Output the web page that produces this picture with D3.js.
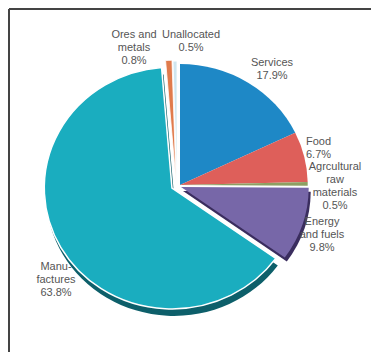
<!DOCTYPE html>
<html>
<head>
<meta charset="utf-8">
<script src="https://cdn.jsdelivr.net/npm/d3@7"></script>
<style>
  html, body { margin: 0; padding: 0; background: #fff; }
  svg { display: block; }
  text { font-family: "Liberation Sans", Arial, sans-serif; font-size: 11px; fill: #555; }
</style>
</head>
<body>
<svg id="chart" width="371" height="352"></svg>
<script>
// Data (clockwise from 12 o'clock)
const categories = ["Services", "Food", "Agricultural raw materials", "Energy and fuels", "Manufactures", "Ores and metals", "Unallocated"];
const values = [17.9, 6.7, 0.5, 9.8, 63.8, 0.8, 0.5];
const labelLines = [
  ["Services", "17.9%"],
  ["Food", "6.7%"],
  ["Agrcultural", "raw", "materials", "0.5%"],
  ["Energy", "and fuels", "9.8%"],
  ["Manu-", "factures", "63.8%"],
  ["Ores and", "metals", "0.8%"],
  ["Unallocated", "0.5%"]
];

// Styling / layout
const colors = ["#1e88c6", "#de5f5a", "#8d9f62", "#7767a8", "#1aadbf", "#e07b4c", "#cfe6ef"];
const rimColors = [null, null, null, "#3a2d5e", "#0d5f6a", null, null];
const rimOffset = [null, null, null, [2, 4], [2, 7], null, null];
const sliceOffset = [[0, 0], [0, 0], [0, 0], [1, 2], [-8, 3], [-4, -4], [-3, -3]];
const labelPos = [[272, 66], [306, 145], [335, 170], [322, 225], [56, 270], [134, 38], [191, 38]];
const labelAnchor = ["middle", "start", "middle", "middle", "middle", "middle", "middle"];

const svg = d3.select("#chart");
const W = 371, H = 352;
const cx = 180, cy = 185, r = 124, sx = 1.03, sy = 0.975;

// Frame: top and left lines
svg.append("line").attr("x1", 9).attr("y1", 9).attr("x2", W).attr("y2", 9)
  .attr("stroke", "#444").attr("stroke-width", 2);
svg.append("line").attr("x1", 9).attr("y1", 9).attr("x2", 9).attr("y2", H)
  .attr("stroke", "#444").attr("stroke-width", 2);

const pie = d3.pie().sort(null).value(d => d).startAngle(0).endAngle(2 * Math.PI);
const arcs = pie(values);
const arc = d3.arc().innerRadius(0).outerRadius(r);

const g = svg.append("g").attr("transform", `translate(${cx},${cy})`);

// Rims (3D depth) drawn first
arcs.forEach((a, i) => {
  if (!rimColors[i]) return;
  const [dx, dy] = sliceOffset[i];
  const [rx, ry] = rimOffset[i];
  g.append("path")
    .attr("d", arc(a))
    .attr("transform", `translate(${dx + rx},${dy + ry}) scale(${sx},${sy})`)
    .attr("fill", rimColors[i]);
});

// Faces
arcs.forEach((a, i) => {
  const [dx, dy] = sliceOffset[i];
  g.append("path")
    .attr("d", arc(a))
    .attr("transform", `translate(${dx},${dy}) scale(${sx},${sy})`)
    .attr("fill", colors[i])
    .attr("stroke", i === 4 || i >= 5 ? "#fff" : "none")
    .attr("stroke-width", i === 4 ? 1.5 : 0.8);
});

// Labels
arcs.forEach((a, i) => {
  const [lx, ly] = labelPos[i];
  const t = svg.append("text")
    .attr("x", lx).attr("y", ly)
    .attr("text-anchor", labelAnchor[i]);
  labelLines[i].forEach((line, j) => {
    t.append("tspan").attr("x", lx).attr("dy", j === 0 ? 0 : 13).text(line);
  });
});
</script>
</body>
</html>
